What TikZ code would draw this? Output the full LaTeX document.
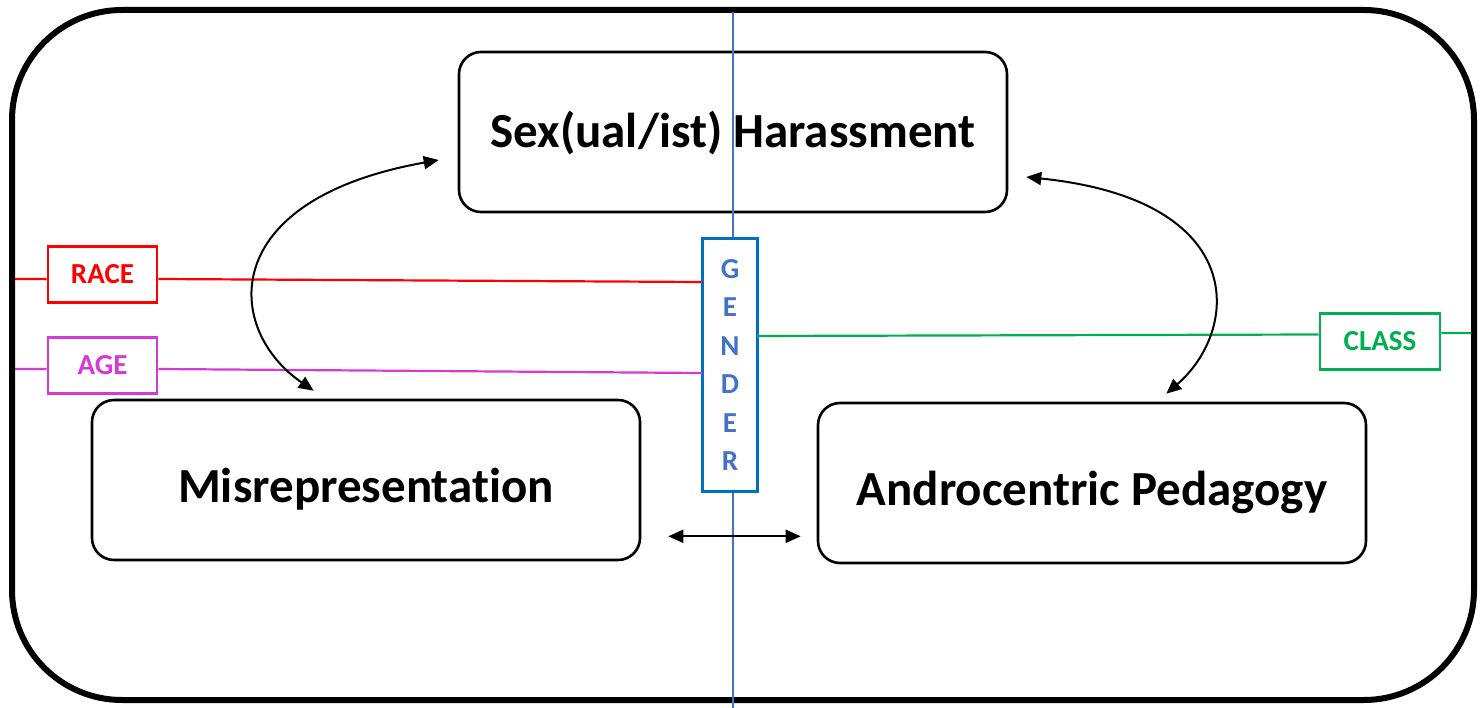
\documentclass[tikz,border=0pt]{standalone}
\usepackage{fontspec}
\setmainfont{Carlito}[Ligatures=NoCommon]
\usetikzlibrary{arrows.meta,calc,positioning}
\definecolor{raceRed}{HTML}{FF0000}
\definecolor{ageMagenta}{HTML}{D43BD4}
\definecolor{classGreen}{HTML}{00B050}
\definecolor{genderEdge}{HTML}{0070C0}
\definecolor{genderBlue}{HTML}{4472C4}

\begin{document}
\begin{tikzpicture}[x=1pt,y=-1pt,
    issue/.style={draw, line width=2.6pt, rounded corners=22pt, minimum width=548pt,
                  minimum height=160pt, font=\fontsize{49}{56}\selectfont\bfseries},
    axisbox/.style={draw, line width=2.6pt, fill=white, minimum width=109pt,
                    minimum height=56pt, font=\fontsize{29}{32}\selectfont\bfseries},
    axisline/.style={line width=2.2pt},
    link/.style={line width=2pt, {Triangle[length=15pt,width=13pt]}-{Triangle[length=15pt,width=13pt]}}]
  \useasboundingbox (0,0) rectangle (1484,708);
  % frame
  \draw[line width=6pt, rounded corners=110pt] (12,10) rectangle (1474,700);

  % the three issues
  \node[issue, text height=44pt, text depth=12pt] (harass) at (733,132) {Sex(ual/ist) Harassment};
  \node[issue, text height=56pt, text depth=12pt] (misrep) at (366,480) {Misrepresentation};
  \node[issue, text height=56pt, text depth=12pt] (andro)  at (1092,483) {Androcentric Pedagogy};

  % gender axis
  \node[draw=genderEdge, line width=2.6pt, fill=white, minimum width=55pt, minimum height=253pt,
        align=center, text=genderBlue, font=\fontsize{29}{38.5}\selectfont\bfseries]
        (gender) at (730,365) {G\\E\\N\\D\\E\\R};
  \coordinate (gTop) at (733,12);
  \coordinate (gBottom) at (733,708);
  \draw[genderBlue, line width=2pt] (gTop) -- (gTop |- gender.north);
  \draw[genderBlue, line width=2pt] (gBottom |- gender.south) -- (gBottom);

  % other axes
  \node[axisbox, draw=raceRed, text=raceRed] (race) at (102.5,274.5) {RACE};
  \node[axisbox, draw=ageMagenta, text=ageMagenta] (age) at (102.5,365.5) {AGE};
  \node[axisbox, draw=classGreen, text=classGreen, minimum width=120pt] (class) at (1380,341.5) {CLASS};

  \coordinate (raceWall) at (15,279);
  \coordinate (raceIn) at (702,282);
  \coordinate (ageWall) at (15,369);
  \coordinate (ageIn) at (702,373);
  \coordinate (classIn) at (757,336);
  \coordinate (classWall) at (1471,333);

  \draw[raceRed, axisline] (raceWall) -- ([yshift=-4.5pt]race.west) ([yshift=-4.5pt]race.east) -- (raceIn);
  \draw[ageMagenta, axisline] (ageWall) -- ([yshift=-3.5pt]age.west) ([yshift=-3.5pt]age.east) -- (ageIn);
  \draw[classGreen, axisline] (classIn) -- ([yshift=7pt]class.west) ([yshift=8.5pt]class.east) -- (classWall);

  % relations
  \draw[link] ($(harass.west)+(-19,28)$) .. controls (215,200) and (225,330) .. ($(misrep.north west)+(223,-8)$);
  \draw[link] ($(harass.east)+(18,45)$) .. controls (1250,200) and (1240,330) .. ($(andro.north east)+(-201,-8)$);
  \draw[link] ($(misrep.south east)+(27,-25)$) -- ($(andro.south west)+(-16,-28)$);
\end{tikzpicture}
\end{document}
